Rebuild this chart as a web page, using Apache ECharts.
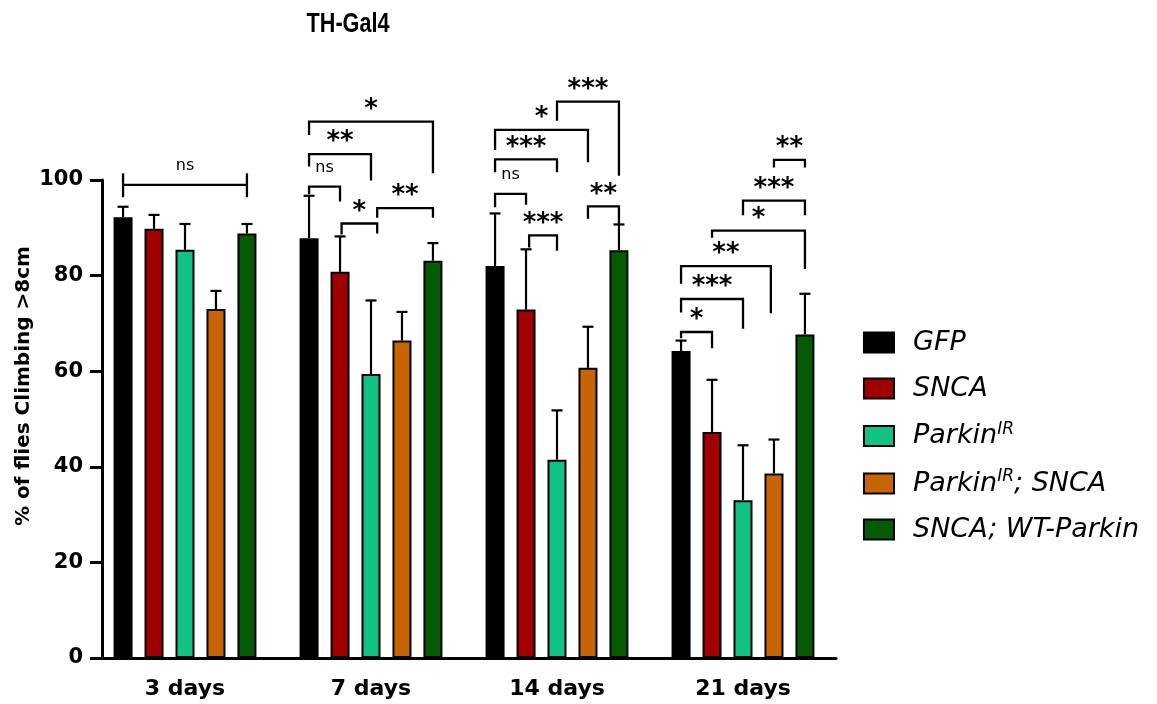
<!DOCTYPE html>
<html><head><meta charset="utf-8">
<script src="https://cdn.jsdelivr.net/npm/echarts@6/dist/echarts.min.js"></script>
<style>html,body{margin:0;padding:0;background:#fff}#c{width:1157px;height:704px}</style>
</head><body><div id="c"></div>
<script>
// ---------- data ----------
const categories = ['3 days', '7 days', '14 days', '21 days'];
const seriesNames = ['GFP', 'SNCA', 'ParkinIR', 'ParkinIR; SNCA', 'SNCA; WT-Parkin'];
const gfp        = [92.2, 87.8, 82.0, 64.2];
const snca       = [89.8, 80.8, 72.9, 47.3];
const parkinIR   = [85.4, 59.4, 41.5, 33.0];
const parkinSnca = [73.0, 66.4, 60.7, 38.6];
const wtParkin   = [88.8, 83.1, 85.3, 67.7];
const gfpSem        = [2.2, 8.9, 11.0, 2.2];
const sncaSem       = [2.9, 7.4, 12.6, 10.9];
const parkinIRSem   = [5.4, 15.4, 10.3, 11.5];
const parkinSncaSem = [3.8, 6.0, 8.6, 7.1];
const wtParkinSem   = [2.0, 3.7, 5.4, 8.5];
const yMin = 0, yMax = 100, yStep = 20;
const titleText = 'TH-Gal4';

// significance brackets (group = category index, from/to = bar position within group)
const bracketGroup    = [0,    1,     1,     1,    1,    1,    2,    2,     2,     2,     2,    2,    3,     3,    3,    3,    3,    3];
const bracketFrom     = [0,    0,     0,     0,    1.05, 2.2,  0,    0,     0,     2,     1.1,  3,    3,     2,    1,    0,    0,    0];
const bracketTo       = [4,    4,     2,     1,    2.2,  4,    1,    2,     3,     4,     2,    4,    4,     4,    4,    2.9,  2,    1];
const bracketLineY    = [99.0, 112.2, 105.4, 98.6, 90.9, 94.1, 97.1, 104.3, 110.5, 116.4, 88.4, 94.5, 104.2, 95.7, 89.4, 82.0, 75.1, 68.2];
const bracketLeftEnd  = [96.4, 109.4, 102.8, 97.0, 88.6, 92.1, 94.3, 101.6, 106.3, 112.4, 85.9, 91.9, 102.6, 92.6, 87.9, 78.3, 72.3, 66.9];
const bracketRightEnd = [96.4, 101.4, 99.9,  95.5, 88.8, 92.1, 94.8, 101.6, 103.7, 100.9, 85.2, 90.7, 102.6, 92.6, 81.4, 72.1, 68.9, 64.8];
const bracketCapTop   = [101.4, null, null,  null, null, null, null, null,  null,  null,  null, null, null,  null, null, null, null, null];
const bracketLabel    = ['ns', '*', '**', 'ns', '*', '**', 'ns', '***', '*', '***', '***', '**', '**', '***', '*', '**', '***', '*'];

// ---------- styles ----------
const colors = ['#000000', '#a00000', '#12c184', '#c76506', '#055a05'];
const means = [gfp, snca, parkinIR, parkinSnca, wtParkin];
const sems = [gfpSem, sncaSem, parkinIRSem, parkinSncaSem, wtParkinSem];
const BAR_W = 19, BAR_GAP = '63%';
const FONT = '"DejaVu Sans", sans-serif';

function barOffset(api, p) {
  let lay = null;
  try { lay = api.barLayout({ barWidth: BAR_W, barGap: BAR_GAP, count: 5 }); } catch (e) { lay = null; }
  if (lay && lay.length === 5) {
    const c = lay.map(l => (l.offsetCenter != null ? l.offsetCenter : l.offset + l.width / 2));
    const pitch = c[1] - c[0];
    return c[0] + p * pitch;
  }
  return (p - 2) * BAR_W * 1.63;
}

const barSeries = seriesNames.map((n, i) => ({
  name: n, type: 'bar', data: means[i], barWidth: BAR_W, barGap: BAR_GAP,
  itemStyle: { color: colors[i], borderColor: '#000', borderWidth: 2 },
  z: 2
}));

const errData = [];
means.forEach((m, s) => m.forEach((v, c) => errData.push([c, v, v + sems[s][c], s])));

const errSeries = {
  type: 'custom', name: 'err', data: errData, z: 3, silent: true,
  renderItem(params, api) {
    const c = api.value(0), v = api.value(1), t = api.value(2), s = api.value(3);
    const b = api.coord([c, v]), tp = api.coord([c, t]);
    const x = b[0] + barOffset(api, s);
    const st = { stroke: '#000', lineWidth: 2.2 };
    return { type: 'group', children: [
      { type: 'line', shape: { x1: x, y1: b[1], x2: x, y2: tp[1] }, style: st },
      { type: 'line', shape: { x1: x - 5.5, y1: tp[1], x2: x + 5.5, y2: tp[1] }, style: st }
    ]};
  }
};

const brData = bracketGroup.map((g, i) => [g, bracketLineY[i]]);
const brSeries = {
  type: 'custom', name: 'brackets', data: brData, z: 4, silent: true, clip: false,
  renderItem(params, api) {
    const i = params.dataIndex;
    const g = bracketGroup[i];
    const h = api.coord([g, bracketLineY[i]]);
    const xc = h[0];
    const xL = xc + barOffset(api, bracketFrom[i]);
    const xR = xc + barOffset(api, bracketTo[i]);
    const yH = h[1];
    const yL = api.coord([g, bracketLeftEnd[i]])[1];
    const yR = api.coord([g, bracketRightEnd[i]])[1];
    const st = { stroke: '#000', lineWidth: 2.3, fill: null };
    const ch = [];
    if (bracketCapTop[i] != null) {
      const yT = api.coord([g, bracketCapTop[i]])[1];
      ch.push({ type: 'line', shape: { x1: xL, y1: yT, x2: xL, y2: yL }, style: st });
      ch.push({ type: 'line', shape: { x1: xR, y1: yT, x2: xR, y2: yR }, style: st });
      ch.push({ type: 'line', shape: { x1: xL, y1: yH, x2: xR, y2: yH }, style: st });
    } else {
      ch.push({ type: 'polyline', shape: { points: [[xL, yL], [xL, yH], [xR, yH], [xR, yR]] }, style: st });
    }
    const lab = bracketLabel[i];
    const isNs = lab === 'ns';
    ch.push({ type: 'text', style: {
      text: lab, x: (xL + xR) / 2, y: isNs ? yH - 19 : yH - 11.5,
      align: 'center', verticalAlign: 'middle',
      fontFamily: FONT, fontSize: isNs ? 16 : 26, fontWeight: isNs ? 'normal' : 'bold', fill: '#000'
    }});
    return { type: 'group', children: ch };
  }
};

const chart = echarts.init(document.getElementById('c'), null, { renderer: 'canvas' });
chart.setOption({
  animation: false,
  backgroundColor: '#fff',
  graphic: [{
    type: 'text', x: 348, y: 25, scaleX: 0.8,
    style: { text: titleText, align: 'center', verticalAlign: 'middle',
      fontFamily: '"Liberation Sans", Arial, sans-serif', fontWeight: 'bold', fontSize: 27, fill: '#000' }
  }],
  grid: { left: 92, width: 744, top: 180, bottom: 46, containLabel: false },
  legend: {
    orient: 'vertical', left: 858, top: 324, itemWidth: 30, itemHeight: 20, itemGap: 19,
    icon: 'rect', data: seriesNames, selectedMode: false,
    formatter: function (name) {
      if (name === 'ParkinIR') return '{i|Parkin}{s|IR}';
      if (name === 'ParkinIR; SNCA') return '{i|Parkin}{s|IR}{i|; SNCA}';
      return '{i|' + name + '}';
    },
    textStyle: {
      padding: [0, 0, 0, 14],
      rich: {
        i: { fontFamily: FONT, fontStyle: 'italic', fontSize: 27, lineHeight: 30, color: '#000' },
        s: { fontFamily: FONT, fontStyle: 'italic', fontSize: 17, lineHeight: 14, verticalAlign: 'top', color: '#000' }
      }
    }
  },
  xAxis: {
    type: 'category', data: categories,
    axisLine: { lineStyle: { color: '#000', width: 3 } },
    axisTick: { alignWithLabel: true, length: 10, lineStyle: { color: '#000', width: 3 } },
    axisLabel: { margin: 20, fontFamily: FONT, fontWeight: 'bold', fontSize: 22, color: '#000' },
    splitLine: { show: false }
  },
  yAxis: {
    type: 'value', min: yMin, max: yMax, interval: yStep, offset: -10,
    name: '% of flies Climbing >8cm', nameLocation: 'middle', nameGap: 68, nameRotate: 90,
    nameMoveOverlap: false,
    nameTextStyle: { fontFamily: FONT, fontWeight: 'bold', fontSize: 20, color: '#000', padding: [0, 0, 0, 66] },
    axisLine: { show: true, lineStyle: { color: '#000', width: 3 } },
    axisTick: { show: true, length: 12, lineStyle: { color: '#000', width: 3 } },
    axisLabel: { margin: 19, fontFamily: FONT, fontWeight: 'bold', fontSize: 21, color: '#000' },
    splitLine: { show: false }
  },
  series: [...barSeries, errSeries, brSeries]
});
</script>
</body></html>
